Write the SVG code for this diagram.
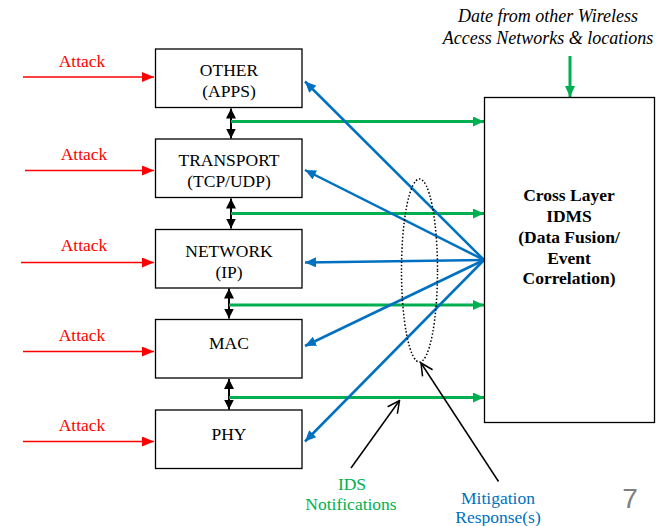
<svg xmlns="http://www.w3.org/2000/svg" width="657" height="526" viewBox="0 0 657 526">
<style>
text{font-family:"Liberation Serif","Times New Roman",serif;font-size:17.5px;text-anchor:middle}
.box{fill:#fff;stroke:#000;stroke-width:1.3}
.red{stroke:#FF0000;stroke-width:1.6;fill:none}
.grn{stroke:#00B050;stroke-width:3;fill:none}
.blu{stroke:#0070C0;stroke-width:2.5;fill:none}
.blk{stroke:#000;stroke-width:2;fill:none}
.thin{stroke:#000;stroke-width:1.5;fill:none}
.rt{fill:#FF0000}
</style>
<defs>
<marker id="mr" markerUnits="userSpaceOnUse" markerWidth="12" markerHeight="10" refX="12" refY="5" orient="auto"><path d="M0,0 L12,5 L0,10 z" fill="#FF0000"/></marker>
<marker id="mg" markerUnits="userSpaceOnUse" markerWidth="11" markerHeight="10" refX="11" refY="5" orient="auto"><path d="M0,0 L11,5 L0,10 z" fill="#00B050"/></marker>
<marker id="mb" markerUnits="userSpaceOnUse" markerWidth="11" markerHeight="10" refX="11" refY="5" orient="auto"><path d="M0,0 L11,5 L0,10 z" fill="#0070C0"/></marker>
<marker id="mk" markerUnits="userSpaceOnUse" markerWidth="10" markerHeight="10" refX="10" refY="5" orient="auto-start-reverse"><path d="M0,0 L10,5 L0,10 z" fill="#000"/></marker>
<marker id="mo" markerUnits="userSpaceOnUse" markerWidth="14" markerHeight="14" refX="13" refY="7" orient="auto"><path d="M1,1 L13,7 L1,13" fill="none" stroke="#000" stroke-width="1.5"/></marker>
</defs>

<g id="connectors">
<line class="red" x1="23" y1="77" x2="154" y2="77" marker-end="url(#mr)"/>
<line class="red" x1="25" y1="170.5" x2="154" y2="170.5" marker-end="url(#mr)"/>
<line class="red" x1="21" y1="262.5" x2="154" y2="262.5" marker-end="url(#mr)"/>
<line class="red" x1="23" y1="351.5" x2="154" y2="351.5" marker-end="url(#mr)"/>
<line class="red" x1="23" y1="441.5" x2="154" y2="441.5" marker-end="url(#mr)"/>

<line class="blk" x1="231" y1="108.5" x2="231" y2="138.5" marker-start="url(#mk)" marker-end="url(#mk)"/>
<line class="blk" x1="231" y1="198.5" x2="231" y2="228.5" marker-start="url(#mk)" marker-end="url(#mk)"/>
<line class="blk" x1="229" y1="288.5" x2="229" y2="318.5" marker-start="url(#mk)" marker-end="url(#mk)"/>
<line class="blk" x1="229" y1="379" x2="229" y2="409.5" marker-start="url(#mk)" marker-end="url(#mk)"/>

<line class="grn" x1="231" y1="121.5" x2="484" y2="121.5" marker-end="url(#mg)"/>
<line class="grn" x1="231" y1="213.5" x2="484" y2="213.5" marker-end="url(#mg)"/>
<line class="grn" x1="229" y1="305" x2="484" y2="305" marker-end="url(#mg)"/>
<line class="grn" x1="229" y1="397.5" x2="484" y2="397.5" marker-end="url(#mg)"/>
<line class="grn" x1="570" y1="56" x2="570" y2="97" marker-end="url(#mg)"/>

<line class="blu" x1="484" y1="260" x2="305" y2="81.5" marker-end="url(#mb)"/>
<line class="blu" x1="484" y1="260" x2="305" y2="170" marker-end="url(#mb)"/>
<line class="blu" x1="484" y1="260" x2="305" y2="262.5" marker-end="url(#mb)"/>
<line class="blu" x1="484" y1="260" x2="305" y2="346" marker-end="url(#mb)"/>
<line class="blu" x1="484" y1="260" x2="305" y2="441.5" marker-end="url(#mb)"/>

<ellipse cx="419.5" cy="270.5" rx="18" ry="91.5" fill="none" stroke="#000" stroke-width="1.5" stroke-dasharray="1.5,2"/>
<line class="thin" x1="351" y1="468" x2="399.5" y2="400.5" marker-end="url(#mo)"/>
<line class="thin" x1="498.5" y1="481.5" x2="421" y2="363" marker-end="url(#mo)"/>
</g>

<g id="attack-labels">
<text class="rt" x="82" y="67">Attack</text>
<text class="rt" x="84" y="160">Attack</text>
<text class="rt" x="84" y="251">Attack</text>
<text class="rt" x="82" y="341">Attack</text>
<text class="rt" x="82" y="431">Attack</text>
</g>

<g id="other">
<rect class="box" x="155.5" y="49" width="146.5" height="58.5"/>
<text x="229" y="76">OTHER</text>
<text x="229" y="96.5">(APPS)</text>
</g>
<g id="transport">
<rect class="box" x="155.5" y="139" width="146.5" height="58.5"/>
<text x="229" y="166">TRANSPORT</text>
<text x="229" y="186.5">(TCP/UDP)</text>
</g>
<g id="network">
<rect class="box" x="155.5" y="229.5" width="146.5" height="58.5"/>
<text x="229" y="256.5">NETWORK</text>
<text x="229" y="278">(IP)</text>
</g>
<g id="mac">
<rect class="box" x="155.5" y="319.5" width="146.5" height="58.5"/>
<text x="229" y="349">MAC</text>
</g>
<g id="phy">
<rect class="box" x="155.5" y="410" width="146.5" height="58.5"/>
<text x="229" y="440">PHY</text>
</g>

<g id="idms">
<rect class="box" x="484.5" y="97.5" width="170" height="325"/>
<g font-weight="bold" style="font-weight:bold">
<text x="569" y="200.5">Cross Layer</text>
<text x="569" y="221.5">IDMS</text>
<text x="569" y="242.5">(Data Fusion/</text>
<text x="569" y="263.5">Event</text>
<text x="569" y="284">Correlation)</text>
</g>
</g>

<g id="external-data">
<text x="548" y="22" font-style="italic" style="font-size:18px">Date from other Wireless</text>
<text x="548" y="44" font-style="italic" style="font-size:18px">Access Networks &amp; locations</text>
</g>

<g id="ids-label">
<text x="352" y="490" fill="#00B050">IDS</text>
<text x="351" y="510" fill="#00B050">Notifications</text>
</g>
<g id="mitigation-label">
<text x="498" y="504" fill="#0070C0">Mitigation</text>
<text x="498" y="522.5" fill="#0070C0">Response(s)</text>
</g>
<text x="630" y="508" fill="#808080" style="font-family:'Liberation Sans',Arial,sans-serif;font-size:28px">7</text>
</svg>
